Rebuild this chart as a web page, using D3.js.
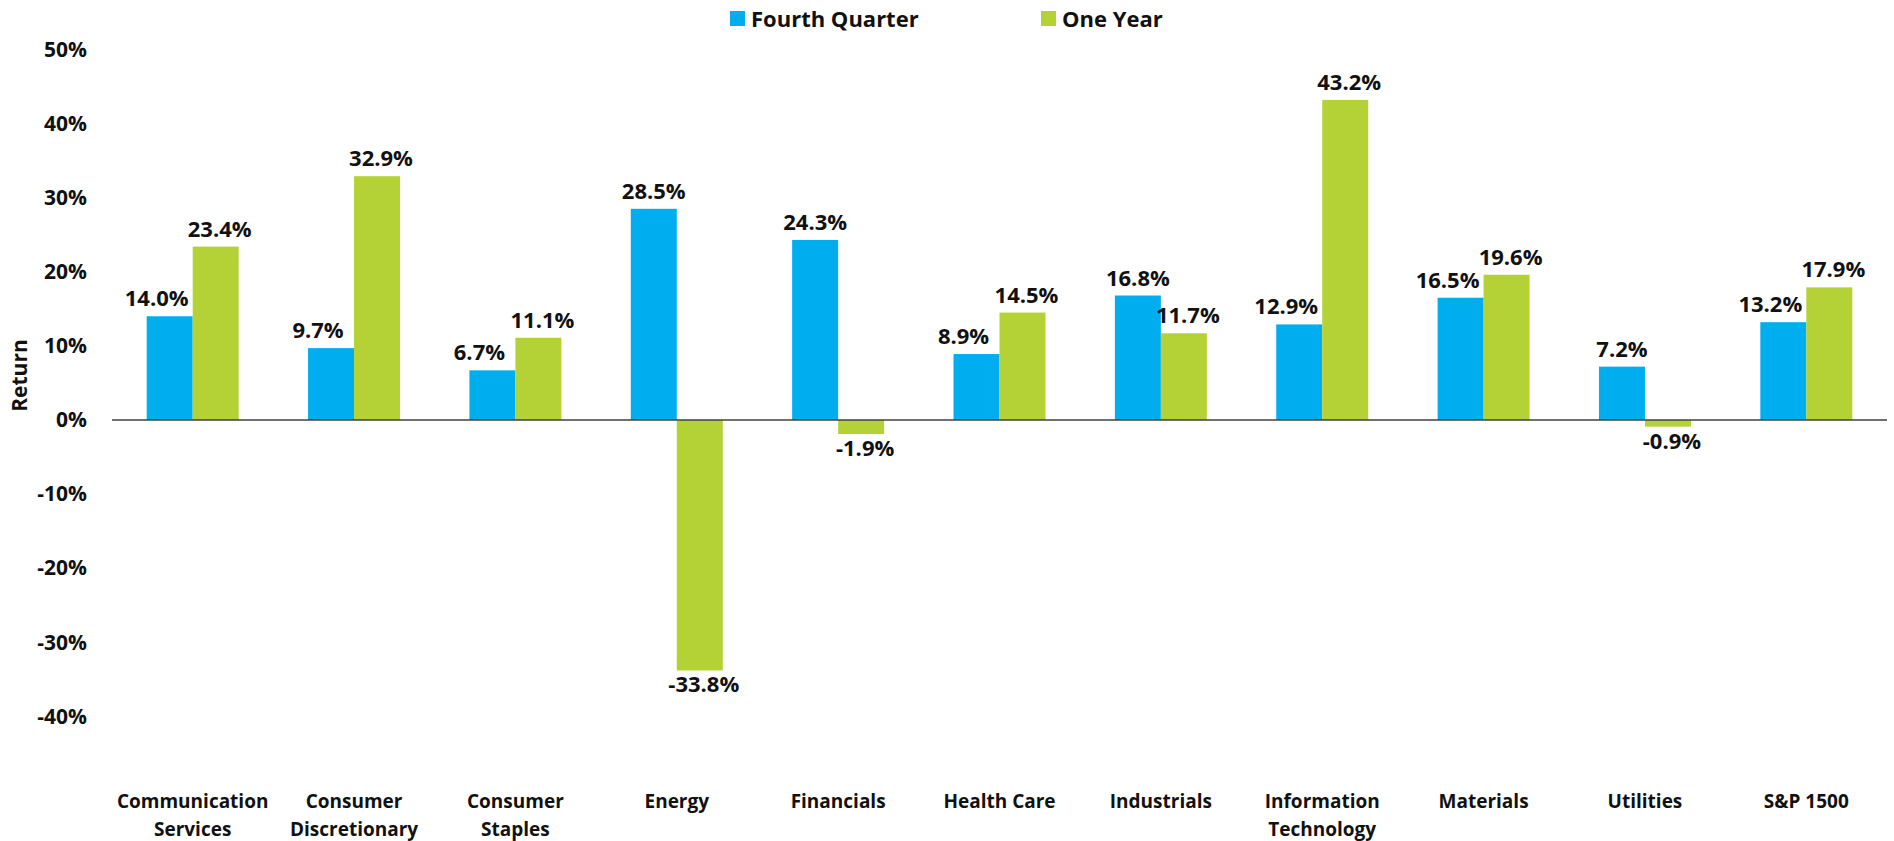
<!DOCTYPE html>
<html>
<head>
<meta charset="utf-8">
<script src="https://cdn.jsdelivr.net/npm/d3@7"></script>
<style>
  html, body { margin: 0; padding: 0; background: #fff; }
  svg { display: block; font-family: "Open Sans", sans-serif; font-weight: 700; }
</style>
</head>
<body>
<svg id="chart" width="1894" height="841"></svg>
<script>
// sector returns, in percent
const categories = [
  'Communication\nServices', 'Consumer\nDiscretionary', 'Consumer\nStaples', 'Energy',
  'Financials', 'Health Care', 'Industrials', 'Information\nTechnology',
  'Materials', 'Utilities', 'S&P 1500'
];
const seriesNames = ['Fourth Quarter', 'One Year'];
const fourthQuarter = [14.0, 9.7, 6.7, 28.5, 24.3, 8.9, 16.8, 12.9, 16.5, 7.2, 13.2];
const oneYear = [23.4, 32.9, 11.1, -33.8, -1.9, 14.5, 11.7, 43.2, 19.6, -0.9, 17.9];
const yTicks = [-40, -30, -20, -10, 0, 10, 20, 30, 40, 50];

const colors = { 'Fourth Quarter': '#00aeef', 'One Year': '#b4d235' };

const svg = d3.select('#chart');

const x0 = d3.scaleBand()
  .domain(categories)
  .range([112, 1887])
  .paddingInner(0.43)
  .paddingOuter(0.215);

const x1 = d3.scaleBand()
  .domain(seriesNames)
  .range([0, x0.bandwidth()]);

const y = d3.scaleLinear()
  .domain([-50, 50])
  .range([790.5, 49.5]);

const rows = categories.map((c, i) => ({
  category: c,
  values: [
    { series: 'Fourth Quarter', value: fourthQuarter[i], other: oneYear[i] },
    { series: 'One Year', value: oneYear[i], other: fourthQuarter[i] }
  ]
}));

// y axis, labels only
const yAxis = svg.append('g')
  .attr('transform', 'translate(90,0)')
  .call(d3.axisLeft(y)
    .tickValues(yTicks)
    .tickSize(0)
    .tickPadding(3)
    .tickFormat(d => `${d}%`));
yAxis.select('.domain').remove();
yAxis.selectAll('text')
  .attr('font-family', '"Open Sans", sans-serif')
  .attr('font-weight', 700)
  .attr('font-size', 21)
  .attr('fill', '#111');

svg.append('text')
  .attr('transform', `translate(27,${y(6)}) rotate(-90)`)
  .attr('text-anchor', 'middle')
  .attr('font-size', 21)
  .attr('fill', '#111')
  .text('Return');

// bars
const groups = svg.append('g')
  .selectAll('g')
  .data(rows)
  .join('g')
  .attr('transform', d => `translate(${x0(d.category)},0)`);

groups.selectAll('rect')
  .data(d => d.values)
  .join('rect')
  .attr('x', d => x1(d.series))
  .attr('width', x1.bandwidth())
  .attr('y', d => y(Math.max(0, d.value)))
  .attr('height', d => Math.abs(y(d.value) - y(0)))
  .attr('fill', d => colors[d.series]);

// value labels: the blue one steps left when its neighbour is taller
const labelShift = d => {
  if (d.series === 'One Year') return 4;
  return d.other > d.value ? -13 : 0;
};

groups.selectAll('text.value')
  .data(d => d.values)
  .join('text')
  .attr('class', 'value')
  .attr('x', d => x1(d.series) + x1.bandwidth() / 2 + labelShift(d))
  .attr('y', d => d.value >= 0 ? y(d.value) - 10 : y(d.value) + 22)
  .attr('text-anchor', 'middle')
  .attr('font-size', 22)
  .attr('fill', '#111')
  .text(d => `${d.value.toFixed(1)}%`);

// zero line
svg.append('line')
  .attr('x1', 112)
  .attr('x2', 1887)
  .attr('y1', y(0))
  .attr('y2', y(0))
  .attr('stroke', '#404040')
  .attr('stroke-width', 1.5);

// category labels
const xLabels = svg.append('g')
  .selectAll('text')
  .data(categories)
  .join('text')
  .attr('x', d => x0(d) + x0.bandwidth() / 2)
  .attr('y', 808)
  .attr('text-anchor', 'middle')
  .attr('font-size', 19)
  .attr('fill', '#111');

xLabels.selectAll('tspan')
  .data(d => d.split('\n'))
  .join('tspan')
  .attr('x', function () { return d3.select(this.parentNode).attr('x'); })
  .attr('dy', (d, i) => i === 0 ? 0 : 28)
  .text(d => d);

// legend
const legendX = [730, 1041];
const legend = svg.append('g')
  .selectAll('g')
  .data(seriesNames)
  .join('g')
  .attr('transform', (d, i) => `translate(${legendX[i]},11)`);

legend.append('rect')
  .attr('width', 15)
  .attr('height', 15)
  .attr('fill', d => colors[d]);

legend.append('text')
  .attr('x', 21)
  .attr('y', 16)
  .attr('font-size', 22)
  .attr('fill', '#111')
  .text(d => d);
</script>
</body>
</html>
